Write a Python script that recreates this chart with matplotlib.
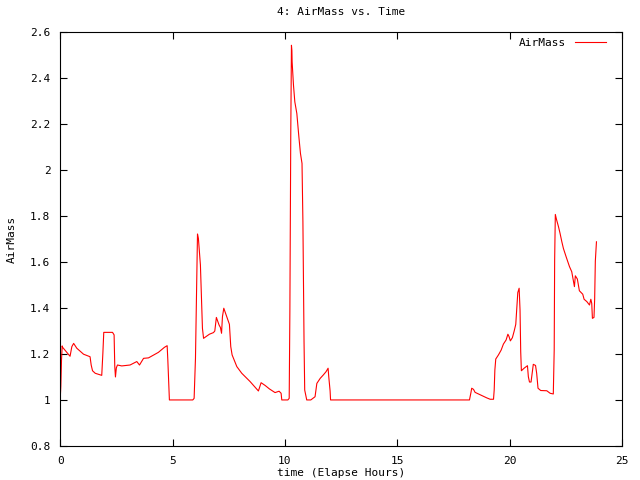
import matplotlib
matplotlib.use("Agg")
import matplotlib.pyplot as plt

# elapsed hours vs. airmass
hours = [0.0, 0.03, 0.06, 0.09, 0.1, 0.44, 0.52, 0.6, 0.74, 1.04, 1.33, 1.38, 1.44, 1.56,
         1.85, 1.9, 1.94, 2.33, 2.4, 2.43, 2.46, 2.5, 2.55, 2.74, 3.11, 3.41, 3.53, 3.71,
         3.93, 4.37, 4.64, 4.76, 4.79, 4.86, 5.9, 5.96, 6.02, 6.11, 6.15, 6.24, 6.3, 6.33,
         6.38, 6.64, 6.82, 6.88, 6.95, 7.07, 7.13, 7.18, 7.22, 7.28, 7.41, 7.53, 7.59, 7.65,
         7.86, 8.08, 8.45, 8.82, 8.94, 9.12, 9.31, 9.56, 9.74, 9.83, 9.86, 10.13, 10.19,
         10.22, 10.26, 10.29, 10.31, 10.32, 10.38, 10.44, 10.53, 10.62, 10.69, 10.76, 10.8,
         10.85, 10.88, 10.97, 11.15, 11.34, 11.42, 11.57, 11.71, 11.83, 11.92, 11.95, 12.01,
         12.03, 18.21, 18.27, 18.31, 18.39, 18.46, 18.76, 18.98, 19.13, 19.28, 19.31, 19.34,
         19.38, 19.5, 19.62, 19.72, 19.84, 19.92, 19.97, 20.03, 20.12, 20.2, 20.27, 20.31,
         20.36, 20.42, 20.46, 20.49, 20.52, 20.64, 20.79, 20.83, 20.88, 20.95, 21.0, 21.05,
         21.15, 21.2, 21.26, 21.38, 21.65, 21.8, 21.94, 21.98, 22.0, 22.03, 22.08, 22.17,
         22.24, 22.32, 22.39, 22.51, 22.66, 22.76, 22.84, 22.88, 22.92, 23.01, 23.1, 23.25,
         23.31, 23.43, 23.55, 23.61, 23.65, 23.68, 23.75, 23.78, 23.81, 23.86]
airmass = [1.0, 1.06, 1.174, 1.235, 1.23, 1.19, 1.232, 1.246, 1.225, 1.199, 1.188, 1.152,
           1.127, 1.116, 1.107, 1.203, 1.294, 1.294, 1.283, 1.145, 1.10, 1.14, 1.152, 1.148,
           1.152, 1.167, 1.152, 1.181, 1.183, 1.207, 1.229, 1.236, 1.174, 1.0, 1.0, 1.007,
           1.181, 1.722, 1.703, 1.587, 1.413, 1.312, 1.268, 1.286, 1.293, 1.30, 1.359, 1.326,
           1.315, 1.29, 1.362, 1.399, 1.362, 1.329, 1.232, 1.196, 1.145, 1.116, 1.08, 1.039,
           1.075, 1.063, 1.048, 1.032, 1.038, 1.029, 1.0, 1.0, 1.007, 1.384, 2.159, 2.543,
           2.52, 2.471, 2.37, 2.297, 2.246, 2.145, 2.073, 2.029, 1.775, 1.254, 1.043, 1.0,
           1.0, 1.014, 1.072, 1.094, 1.109, 1.123, 1.138, 1.101, 1.039, 1.0, 1.0, 1.029,
           1.051, 1.046, 1.033, 1.019, 1.009, 1.003, 1.003, 1.043, 1.13, 1.178, 1.196, 1.217,
           1.243, 1.261, 1.286, 1.276, 1.257, 1.271, 1.30, 1.329, 1.391, 1.467, 1.486, 1.391,
           1.21, 1.127, 1.138, 1.149, 1.101, 1.078, 1.078, 1.116, 1.155, 1.15, 1.116, 1.051,
           1.041, 1.04, 1.029, 1.026, 1.217, 1.609, 1.807, 1.786, 1.754, 1.725, 1.688, 1.659,
           1.623, 1.58, 1.558, 1.514, 1.493, 1.54, 1.526, 1.475, 1.46, 1.438, 1.428, 1.413,
           1.438, 1.42, 1.355, 1.359, 1.439, 1.604, 1.688]

x_ticks = [0, 5, 10, 15, 20, 25]
y_ticks = [0.8, 1.0, 1.2, 1.4, 1.6, 1.8, 2.0, 2.2, 2.4, 2.6]
y_labels = ["0.8", "1", "1.2", "1.4", "1.6", "1.8", "2", "2.2", "2.4", "2.6"]

plt.rcParams['font.family'] = ['DejaVu Sans Mono']
plt.rcParams['font.size'] = 8

fig = plt.figure(figsize=(6.4, 4.8), dpi=100)
ax = fig.add_axes([0.094, 0.071, 0.878, 0.862])

ax.plot(hours, airmass, color='red', linewidth=0.8, label='AirMass')

ax.set_xlim(0, 25)
ax.set_ylim(0.8, 2.6)
ax.set_xticks(x_ticks)
ax.set_yticks(y_ticks)
ax.set_yticklabels(y_labels)
ax.tick_params(direction='in', length=5, width=0.8, top=True, right=True, pad=7)
for s in ax.spines.values():
    s.set_linewidth(0.8)

ax.set_title('4: AirMass vs. Time', fontsize=8, pad=12)
ax.set_xlabel('time (Elapse Hours)', labelpad=2)
ax.set_ylabel('AirMass', labelpad=10)
ax.legend(loc='upper right', frameon=False, markerfirst=False, handlelength=2.8,
          fontsize=8, borderaxespad=0.3, bbox_to_anchor=(0.985, 1.004))

fig.savefig('out.png', dpi=100)
